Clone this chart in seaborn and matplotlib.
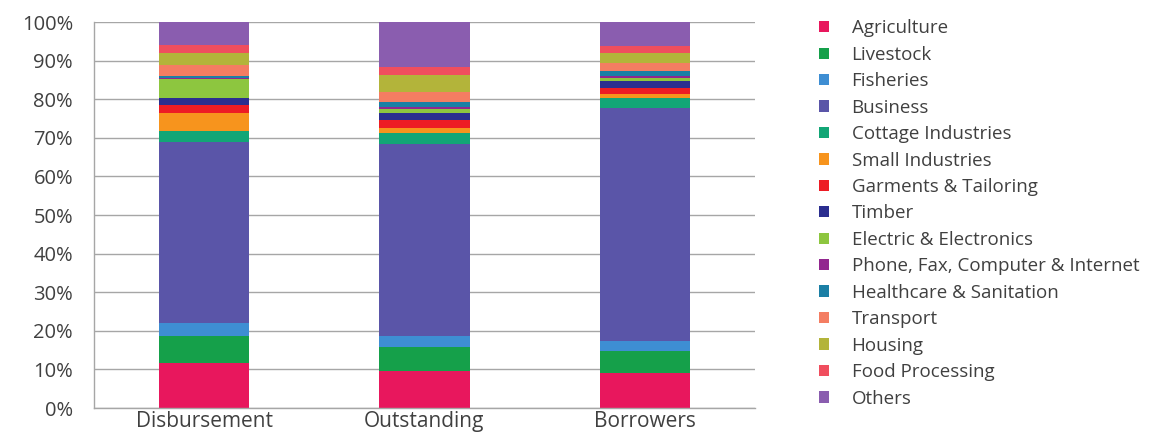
import matplotlib
matplotlib.use('Agg')
import matplotlib.pyplot as plt
import seaborn as sns
import pandas as pd
import numpy as np
from matplotlib.patches import Patch

categories = ['Disbursement', 'Outstanding', 'Borrowers']

sectors = ['Agriculture', 'Livestock', 'Fisheries', 'Business', 'Cottage Industries',
           'Small Industries', 'Garments & Tailoring', 'Timber', 'Electric & Electronics',
           'Phone, Fax, Computer & Internet', 'Healthcare & Sanitation', 'Transport',
           'Housing', 'Food Processing', 'Others']

# percent shares, one list per bar (bottom to top in sector order)
disbursement = [11.8, 6.9, 3.4, 46.8, 2.8, 4.7, 2.2, 1.7, 4.9, 0.3, 0.6, 2.8, 3.0, 2.2, 5.9]
outstanding = [9.7, 6.0, 3.0, 49.7, 2.9, 1.2, 2.0, 2.0, 1.0, 0.4, 1.5, 2.6, 4.3, 2.0, 11.7]
borrowers = [9.2, 5.6, 2.6, 60.4, 2.6, 0.9, 1.7, 1.7, 0.9, 0.4, 1.3, 2.2, 2.6, 1.7, 6.2]

colors = ['#E8175D', '#15A04A', '#3E8ED3', '#5A55A8', '#12A676', '#F7941D', '#ED1C24',
          '#2B2E8F', '#8DC63F', '#92278F', '#1B7FA5', '#F47D62', '#B3B43A', '#F04E5E',
          '#8A5DAF']

df = pd.DataFrame({'Disbursement': disbursement, 'Outstanding': outstanding,
                   'Borrowers': borrowers}, index=sectors)
cum = df.cumsum()

sns.set_style('white')
plt.rcParams['font.family'] = ['Open Sans', 'DejaVu Sans']
text_color = '#404040'

fig = plt.figure(figsize=(11.73, 4.36), dpi=100)
ax = fig.add_axes([0.080, 0.064, 0.5636, 0.8855])

# draw cumulative tops from the top layer down so each layer covers the rest
for i in range(len(sectors) - 1, -1, -1):
    layer = pd.DataFrame({'cat': categories, 'val': cum.iloc[i][categories].values})
    sns.barplot(data=layer, x='cat', y='val', color=colors[i], width=0.41,
                saturation=1, ax=ax, linewidth=0, order=categories)

ax.set_xlim(-0.5, 2.5)
ax.set_ylim(0, 100)
ax.set_yticks(np.arange(0, 101, 10))
ax.set_yticklabels([f'{v}%' for v in range(0, 101, 10)], fontsize=14.5, color=text_color)
ax.set_xticklabels(categories, fontsize=15, color=text_color)
ax.set_xlabel('')
ax.set_ylabel('')
ax.tick_params(axis='both', length=0)
ax.tick_params(axis='x', pad=2)
ax.tick_params(axis='y', pad=15)
ax.yaxis.grid(True, color='#A6A6A6', linewidth=1)
ax.set_axisbelow(True)
for side in ['top', 'right']:
    ax.spines[side].set_visible(False)
for side in ['left', 'bottom']:
    ax.spines[side].set_color('#A6A6A6')
    ax.spines[side].set_linewidth(1)

handles = [Patch(facecolor=c, edgecolor='none') for c in colors]
leg = fig.legend(handles, sectors, loc='upper left', bbox_to_anchor=(0.69, 0.977),
                 frameon=False, fontsize=13.5, borderpad=0, handlelength=0.55,
                 handleheight=0.55, handletextpad=1.2, labelspacing=0.45)
for t in leg.get_texts():
    t.set_color(text_color)

plt.savefig('out.png', dpi=100)
